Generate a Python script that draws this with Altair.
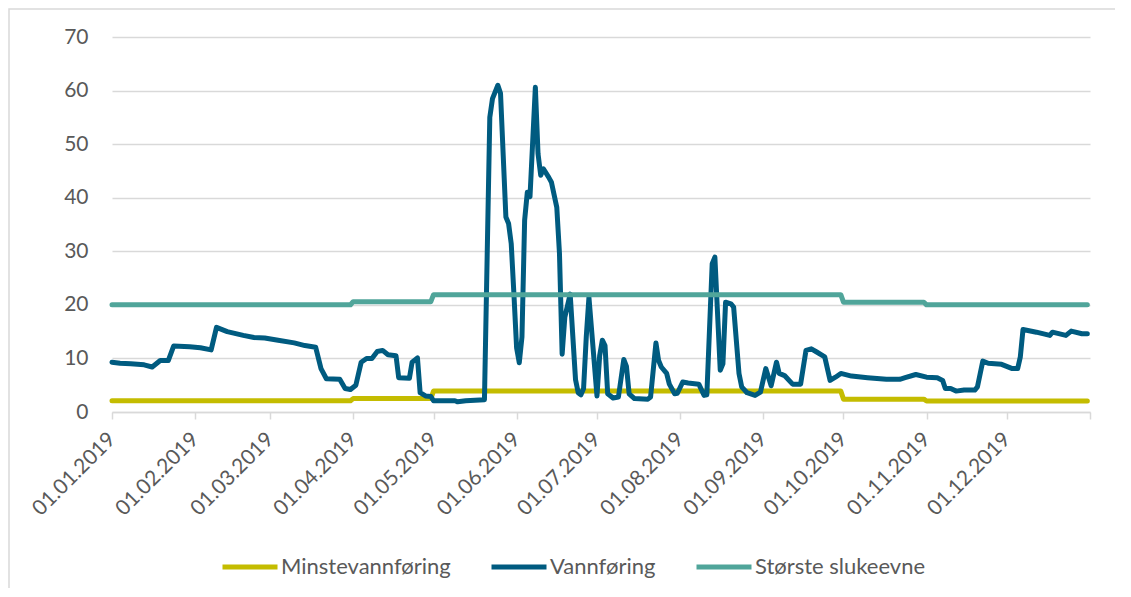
import altair as alt
import pandas as pd

# ---- data ----
series_names = ["Minstevannføring", "Vannføring", "Største slukeevne"]
series_colors = ["#C4BC00", "#005B80", "#50A59A"]

min_dates = ["2019-01-01", "2019-03-31", "2019-04-01", "2019-04-30", "2019-05-01",
             "2019-09-30", "2019-10-01", "2019-10-31", "2019-11-01", "2019-12-31"]
min_values = [2.1, 2.1, 2.5, 2.5, 3.9, 3.9, 2.4, 2.4, 2.05, 2.05]

cap_dates = ["2019-01-01", "2019-03-31", "2019-04-01", "2019-04-30", "2019-05-01",
             "2019-09-30", "2019-10-01", "2019-10-31", "2019-11-01", "2019-12-31"]
cap_values = [20.0, 20.0, 20.6, 20.6, 21.9, 21.9, 20.5, 20.5, 20.0, 20.0]

# Vannføring: day of year (0 = 01.01.2019) and value
flow_days = [
    0, 3, 7, 12, 15, 18, 21, 23, 29, 33, 37, 39, 43, 49, 53, 57, 62, 68, 72, 76,
    78, 80, 85, 87, 89, 91, 93, 95, 97, 99, 101, 103, 106, 107, 111, 112, 114, 115, 117, 119,
    120, 128, 129, 132, 139, 141, 142, 144, 145, 147, 148, 149, 150, 151, 152, 153, 154, 155, 156, 158,
    159, 160, 161, 163, 164, 166, 167, 168, 169, 171, 172, 173, 174, 175, 176, 177, 178, 181, 182, 183,
    184, 185, 187, 189, 191, 192, 193, 195, 200, 201, 203, 204, 205, 207, 208, 210, 211, 213, 215, 219,
    221, 222, 224, 225, 227, 228, 229, 231, 232, 234, 235, 237, 240, 242, 244, 246, 248, 249, 251, 254,
    257, 259, 261, 263, 266, 268, 270, 272, 276, 282, 289, 294, 296, 300, 304, 308, 310, 311, 313, 315,
    318, 322, 323, 325, 327, 332, 336, 338, 339, 340, 345, 350, 351, 356, 358, 362, 364,
]
flow_values = [
    9.3, 9.1, 9.0, 8.8, 8.4, 9.6, 9.6, 12.3, 12.2, 12.0, 11.6, 15.8, 15.0, 14.3, 13.9, 13.8, 13.4, 12.9, 12.4, 12.1,
    8.1, 6.2, 6.1, 4.4, 4.2, 5.0, 9.3, 10.0, 10.0, 11.3, 11.5, 10.7, 10.5, 6.4, 6.3, 9.3, 10.1, 3.6, 3.0, 2.9,
    2.1, 2.1, 1.9, 2.1, 2.3, 55.0, 58.5, 61.0, 59.5, 36.4, 35.2, 31.4, 22.0, 12.0, 9.2, 14.0, 35.8, 41.0, 40.2, 60.6,
    48.2, 44.2, 45.4, 43.8, 42.9, 38.2, 29.6, 10.8, 17.7, 22.0, 14.0, 6.0, 3.6, 3.2, 4.4, 14.0, 21.4, 3.0, 10.5, 13.4,
    12.4, 3.4, 2.6, 2.8, 9.8, 8.5, 3.4, 2.5, 2.4, 2.8, 12.9, 9.6, 8.4, 7.2, 5.2, 3.4, 3.5, 5.6, 5.4, 5.2,
    3.1, 3.2, 27.7, 28.9, 7.8, 9.0, 20.5, 20.2, 19.6, 7.2, 4.7, 3.6, 3.1, 3.7, 8.1, 4.9, 9.3, 7.2, 6.8, 5.2,
    5.2, 11.5, 11.8, 11.2, 10.3, 5.9, 6.5, 7.2, 6.7, 6.4, 6.1, 6.1, 6.4, 7.0, 6.5, 6.4, 5.9, 4.4, 4.4, 3.9,
    4.1, 4.1, 4.7, 9.5, 9.1, 8.9, 8.1, 8.1, 10.3, 15.4, 14.9, 14.3, 14.9, 14.3, 15.1, 14.6, 14.6,
]
flow_dates = [(pd.Timestamp("2019-01-01") + pd.Timedelta(days=d)).strftime("%Y-%m-%d") for d in flow_days]

y_ticks = [0, 10, 20, 30, 40, 50, 60, 70]

df_min = pd.DataFrame({"date": min_dates, "value": min_values, "series": series_names[0]})
df_flow = pd.DataFrame({"date": flow_dates, "value": flow_values, "series": series_names[1]})
df_cap = pd.DataFrame({"date": cap_dates, "value": cap_values, "series": series_names[2]})

font = "Lato"
text_color = "#595959"
grid_color = "#d9d9d9"

tick_dates = [alt.DateTime(year=2019, month=m, date=1, utc=True) for m in range(1, 13)]
tick_dates.append(alt.DateTime(year=2020, month=1, date=1, utc=True))

x_enc = alt.X(
    "date:T",
    scale=alt.Scale(type="utc", domain=[alt.DateTime(year=2019, month=1, date=1, utc=True),
                                       alt.DateTime(year=2020, month=1, date=1, utc=True)]),
    axis=alt.Axis(
        title=None, values=tick_dates,
        labelExpr="utcyear(datum.value) > 2019 ? '' : utcFormat(datum.value, '%d.%m.%Y')",
        labelAngle=-45, labelAlign="right", labelBaseline="middle",
        labelFontSize=21, labelColor=text_color, labelFont=font, labelPadding=17,
        tickSize=7, tickColor=grid_color, tickWidth=1.5,
        domainColor=grid_color, domainWidth=1.5, grid=False, labelOverlap=False,
    ),
)
y_enc = alt.Y(
    "value:Q",
    scale=alt.Scale(domain=[0, 70], nice=False),
    axis=alt.Axis(
        title=None, values=y_ticks, ticks=False, domain=False,
        labelFontSize=21, labelColor=text_color, labelFont=font, labelPadding=24,
        gridColor=grid_color, gridWidth=1.5,
    ),
)
color_enc = alt.Color(
    "series:N",
    scale=alt.Scale(domain=series_names, range=series_colors),
    legend=alt.Legend(
        title=None, orient="none", legendX=108, legendY=500, direction="horizontal",
        symbolType="stroke", symbolSize=3025, symbolStrokeWidth=5,
        labelFontSize=22, labelColor=text_color, labelFont=font, labelOffset=1,
        columnPadding=30, labelLimit=400,
    ),
    sort=series_names,
)


def line(df):
    return alt.Chart(df).mark_line(strokeWidth=5, strokeCap="round", strokeJoin="round").encode(
        x=x_enc, y=y_enc, color=color_enc
    )


frame = alt.Chart(pd.DataFrame({"f": [0]})).mark_rect(
    filled=False, stroke=grid_color, strokeWidth=1.5
).encode(
    x=alt.value(-103), x2=alt.value(1011), y=alt.value(-28), y2=alt.value(600)
)

chart = alt.layer(frame, line(df_min), line(df_flow), line(df_cap)).properties(
    width=978, height=375,
    autosize=alt.AutoSizeParams(type="none"),
    padding={"left": 104, "top": 29, "right": 25, "bottom": 176},
    background="white",
).configure_view(stroke=None)

chart.save("out.html", embed_options={"renderer": "svg", "actions": False})
